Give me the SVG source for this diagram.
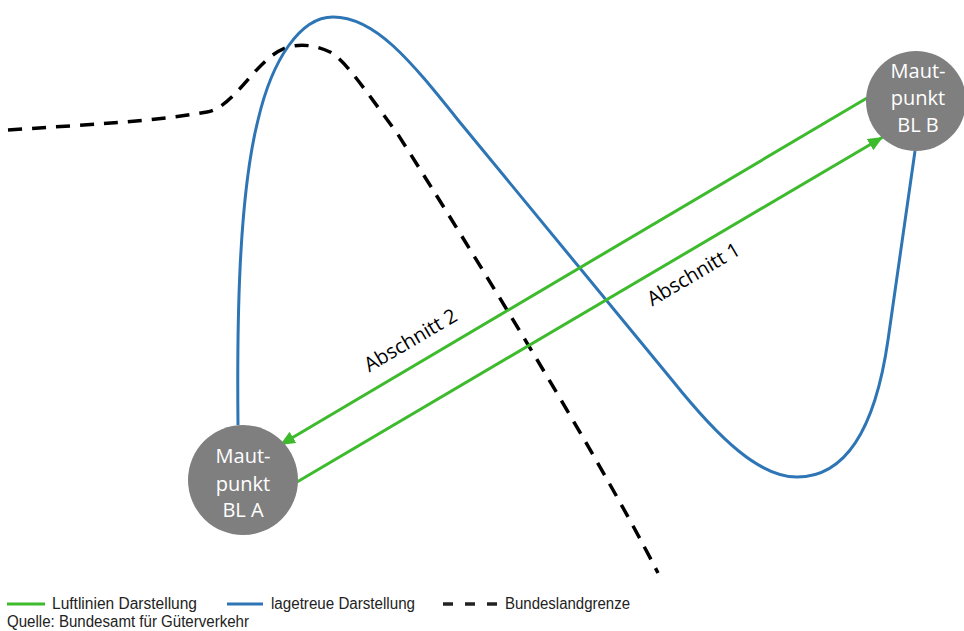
<svg xmlns="http://www.w3.org/2000/svg" width="964" height="631" viewBox="0 0 964 631">
<style>
.green{stroke:#3dbb2d;stroke-width:3;fill:none}
.blue{stroke:#2e75b6;stroke-width:3;fill:none}
.border{stroke:#000;stroke-width:3.5;fill:none;stroke-dasharray:14 10}
.node circle{fill:#7f7f7f}
.node text{font-family:"Open Sans","Liberation Sans",sans-serif;font-size:20px;fill:#fff;text-anchor:middle}
.lbl{font-family:"Open Sans","Liberation Sans",sans-serif;font-size:20px;fill:#000;text-anchor:middle}
.leg{font-family:"Liberation Sans","Noto Sans",sans-serif;font-size:16px;fill:#222}
</style>
<defs>
<marker id="arr" markerUnits="userSpaceOnUse" markerWidth="16" markerHeight="14" refX="15" refY="6.5" orient="auto">
<path d="M0,0 L15,6.5 L0,13 Z" fill="#3dbb2d"/>
</marker>
</defs>
<rect width="964" height="631" fill="#fff"/>
<g id="border-line">
<path class="border" d="M8,130 C80,125 150,122 207,112 C235,107 255,60 285,48 C300,43 315,45 330,52 C345,60 365,90 397,133 C440,200 590,440 658,573"/>
</g>
<g id="connectors">
<path class="blue" d="M238,425 C237,330 238,200 258,120 C272,60 300,17 333,17 C375,17 410,60 458,120 L672,380 C720,440 760,477 797,477 C845,477 875,430 888,340 C900,260 908,200 915,151"/>
<line class="green" x1="867" y1="98" x2="280" y2="445" marker-end="url(#arr)"/>
<line class="green" x1="297" y1="482" x2="883" y2="137" marker-end="url(#arr)"/>
<text class="lbl" transform="translate(414,346) rotate(-30.5)" textLength="104" lengthAdjust="spacingAndGlyphs">Abschnitt 2</text>
<text class="lbl" transform="translate(697,280) rotate(-30.5)" textLength="104" lengthAdjust="spacingAndGlyphs">Abschnitt 1</text>
</g>
<g id="node-a" class="node">
<circle cx="243" cy="480" r="55"/>
<text x="243" y="463">Maut-</text>
<text x="243" y="491">punkt</text>
<text x="243" y="517">BL A</text>
</g>
<g id="node-b" class="node">
<circle cx="916" cy="101" r="50"/>
<text x="918" y="78">Maut-</text>
<text x="918" y="105">punkt</text>
<text x="918" y="132">BL B</text>
</g>
<g id="legend">
<line x1="7" y1="604" x2="45" y2="604" stroke="#3dbb2d" stroke-width="3"/>
<text class="leg" x="52" y="609" textLength="145" lengthAdjust="spacingAndGlyphs">Luftlinien Darstellung</text>
<line x1="227" y1="604" x2="263" y2="604" stroke="#2e75b6" stroke-width="3"/>
<text class="leg" x="271" y="609" textLength="144" lengthAdjust="spacingAndGlyphs">lagetreue Darstellung</text>
<line x1="443" y1="604" x2="497" y2="604" stroke="#222" stroke-width="3.5" stroke-dasharray="10 12"/>
<text class="leg" x="505" y="609" textLength="125" lengthAdjust="spacingAndGlyphs">Bundeslandgrenze</text>
<text class="leg" x="7" y="627" textLength="242" lengthAdjust="spacingAndGlyphs">Quelle: Bundesamt für Güterverkehr</text>
</g>
</svg>
